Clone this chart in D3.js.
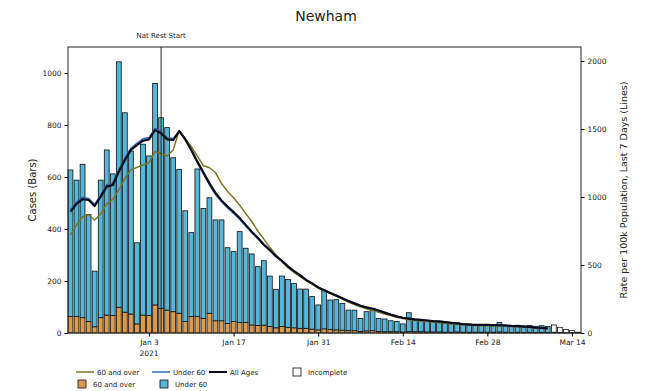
<!DOCTYPE html>
<html>
<head>
<meta charset="utf-8">
<script src="https://cdn.jsdelivr.net/npm/d3@7"></script>
<style>
  body { margin: 0; background: #fff; }
  svg text { font-family: "DejaVu Sans", sans-serif; fill: #222; }
</style>
</head>
<body>
<svg id="chart" width="653" height="391"></svg>
<script>
// first day of the bars, and how many days are shown
var firstDay = new Date(Date.UTC(2020, 11, 21));
var dayCount = 85;
var incompleteDays = 5;

// cases per day (bars)
var over60Cases = [63,63,59,44,24,59,69,67,99,80,73,35,69,67,108,95,88,82,76,44,
  63,63,56,76,47,47,37,44,40,40,31,29,30,25,20,25,22,20,18,18,
  15,12,16,13,12,11,9,9,6,8,9,6,5,5,5,4,6,5,5,4,
  4,4,3,3,4,3,3,3,3,3,3,4,3,2,3,2,3,2,2,2,
  3,2,1,1,0];
var under60Cases = [564,525,590,411,214,529,635,545,944,767,627,312,657,614,852,733,702,592,553,426,
  323,568,423,444,388,388,291,269,350,286,273,226,248,194,148,194,184,171,151,151,
  125,96,149,114,116,103,79,79,50,74,86,50,49,42,39,31,72,45,45,43,
  41,36,35,33,36,30,32,27,29,31,27,36,27,26,27,25,26,24,26,23,
  28,20,13,8,3];

// rate per 100k, last 7 days (lines), up to the last complete day
var rateOver60 = [721,794,855,868,831,875,949,983,1051,1137,1199,1218,1235,1252,1333,1321,1301,1346,1490,1430,
  1370,1300,1230,1215,1180,1100,1040,995,940,880,820,750,690,630,575,525,480,445,415,385,
  360,330,310,290,270,250,228,210,192,178,165,152,140,128,116,106,98,92,88,84,
  80,76,72,68,64,60,57,55,54,53,52,51,50,48,46,44,41,38,35,32];
var rateUnder60 = [905,962,998,990,945,1015,1090,1100,1200,1285,1360,1395,1428,1437,1505,1480,1436,1430,1484,1423,
  1343,1255,1172,1090,1018,965,920,880,836,786,737,694,645,606,563,530,491,456,426,391,
  366,336,316,296,276,256,236,219,201,189,179,166,151,136,123,113,107,101,97,93,
  89,86,81,76,71,66,63,61,61,60,59,58,56,53,51,48,45,41,38,35];
var rateAll = [892,949,985,978,934,1002,1076,1088,1186,1272,1346,1382,1414,1424,1493,1468,1424,1419,1485,1424,
  1346,1260,1180,1100,1030,975,930,890,845,795,745,700,650,610,565,530,490,455,425,390,
  365,335,315,295,275,255,235,218,200,188,178,165,150,135,122,112,106,100,96,92,
  88,85,80,75,70,65,62,60,60,59,58,57,55,52,50,47,44,40,37,34];

var xTickDays = ["2021-01-03","2021-01-17","2021-01-31","2021-02-14","2021-02-28","2021-03-14"];
var leftTicks = [0,200,400,600,800,1000];
var rightTicks = [0,500,1000,1500,2000];
var restStart = "2021-01-05";

var colOver = "#d99a4b", colUnder = "#55b6d8";
var lineOver = "#7d7526", lineUnder = "#2d6cc0", lineAll = "#0a0a1a";

var margin = {top: 47, right: 72, bottom: 58, left: 68},
    width = 653 - margin.left - margin.right,
    height = 391 - margin.top - margin.bottom;

var days = d3.range(dayCount).map(function(i){ return d3.utcDay.offset(firstDay, i); });
var parse = d3.utcParse("%Y-%m-%d");
var dayMs = 864e5;

var x = d3.scaleUtc()
    .domain([new Date(+days[0] - 0.41*dayMs), new Date(+days[dayCount-1] + 0.5*dayMs)])
    .range([0, width]);
var yL = d3.scaleLinear().domain([0, 1100]).range([height, 0]);
var yR = d3.scaleLinear().domain([0, 2103]).range([height, 0]);
var barW = x(new Date(+days[0] + 0.8*dayMs)) - x(days[0]);

var svg = d3.select("#chart");
var g = svg.append("g").attr("transform", "translate(" + margin.left + "," + margin.top + ")");

// title
svg.append("text")
    .attr("x", 326).attr("y", 21)
    .attr("text-anchor", "middle")
    .style("font-size", "14px")
    .text("Newham");

// bars
var bars = g.append("g");
days.forEach(function(d, i){
  var inc = i >= dayCount - incompleteDays;
  var o = over60Cases[i], u = under60Cases[i];
  bars.append("rect")
      .attr("x", x(d) - barW/2).attr("width", barW)
      .attr("y", yL(o)).attr("height", yL(0) - yL(o))
      .attr("fill", inc ? "#fafafa" : colOver)
      .attr("stroke", "#111").attr("stroke-width", 0.8);
  bars.append("rect")
      .attr("x", x(d) - barW/2).attr("width", barW)
      .attr("y", yL(o + u)).attr("height", yL(o) - yL(o + u))
      .attr("fill", inc ? "#fafafa" : colUnder)
      .attr("stroke", "#111").attr("stroke-width", 0.8);
});

// rate lines
function drawLine(vals, col, w){
  var line = d3.line()
      .x(function(v, i){ return x(days[i]); })
      .y(function(v){ return yR(v); });
  g.append("path").datum(vals)
      .attr("d", line)
      .attr("fill", "none")
      .attr("stroke", col)
      .attr("stroke-width", w)
      .attr("stroke-linejoin", "round");
}
drawLine(rateOver60, lineOver, 1.5);
drawLine(rateUnder60, lineUnder, 1.5);
drawLine(rateAll, lineAll, 2.2);

// national restrictions marker
var rx = x(parse(restStart));
g.append("line")
    .attr("x1", rx).attr("x2", rx).attr("y1", 0).attr("y2", height)
    .attr("stroke", "#222").attr("stroke-width", 1);
g.append("text")
    .attr("x", rx).attr("y", -9)
    .attr("text-anchor", "middle")
    .style("font-size", "7px")
    .text("Nat Rest Start");

// frame
g.append("rect")
    .attr("width", width).attr("height", height)
    .attr("fill", "none").attr("stroke", "#222").attr("stroke-width", 1);

// axes
var fmt = d3.utcFormat("%b %-d");
var xAxis = g.append("g")
    .attr("transform", "translate(0," + height + ")")
    .call(d3.axisBottom(x).tickValues(xTickDays.map(parse)).tickFormat(fmt).tickSize(3.5).tickPadding(3));
xAxis.select(".domain").remove();
xAxis.selectAll("text").style("font-size", "7.5px").attr("fill", "#222");
xAxis.append("text")
    .attr("x", x(parse(xTickDays[0]))).attr("y", 23)
    .attr("text-anchor", "middle")
    .style("font-size", "7.5px")
    .text("2021");

var leftAxis = g.append("g")
    .call(d3.axisLeft(yL).tickValues(leftTicks).tickFormat(d3.format("d")).tickSize(3.5).tickPadding(3));
leftAxis.select(".domain").remove();
leftAxis.selectAll("text").style("font-size", "7.5px").attr("fill", "#222");

var rightAxis = g.append("g")
    .attr("transform", "translate(" + width + ",0)")
    .call(d3.axisRight(yR).tickValues(rightTicks).tickFormat(d3.format("d")).tickSize(3.5).tickPadding(3));
rightAxis.select(".domain").remove();
rightAxis.selectAll("text").style("font-size", "7.5px").attr("fill", "#222");

svg.append("text")
    .attr("transform", "translate(36," + (margin.top + height/2) + ") rotate(-90)")
    .attr("text-anchor", "middle")
    .style("font-size", "10px")
    .text("Cases (Bars)");
svg.append("text")
    .attr("transform", "translate(627," + (margin.top + height/2) + ") rotate(-90)")
    .attr("text-anchor", "middle")
    .style("font-size", "9.5px")
    .text("Rate per 100k Population, Last 7 Days (Lines)");

// legend
var leg = svg.append("g").style("font-size", "7px");
var lineItems = [
  {x: 76, col: lineOver, w: 1.5, label: "60 and over"},
  {x: 152, col: lineUnder, w: 1.5, label: "Under 60"},
  {x: 209, col: lineAll, w: 2, label: "All Ages"}
];
lineItems.forEach(function(it){
  leg.append("line")
      .attr("x1", it.x).attr("x2", it.x + 18).attr("y1", 372).attr("y2", 372)
      .attr("stroke", it.col).attr("stroke-width", it.w);
  leg.append("text").attr("x", it.x + 21).attr("y", 374.5).text(it.label);
});
var boxItems = [
  {x: 293, y: 368, fill: "#fafafa", label: "Incomplete"},
  {x: 78, y: 380, fill: colOver, label: "60 and over"},
  {x: 160, y: 380, fill: colUnder, label: "Under 60"}
];
boxItems.forEach(function(it){
  leg.append("rect")
      .attr("x", it.x).attr("y", it.y).attr("width", 8).attr("height", 8)
      .attr("fill", it.fill).attr("stroke", "#111").attr("stroke-width", 0.8);
  leg.append("text").attr("x", it.x + 15).attr("y", it.y + 6.5).text(it.label);
});
</script>
</body>
</html>
